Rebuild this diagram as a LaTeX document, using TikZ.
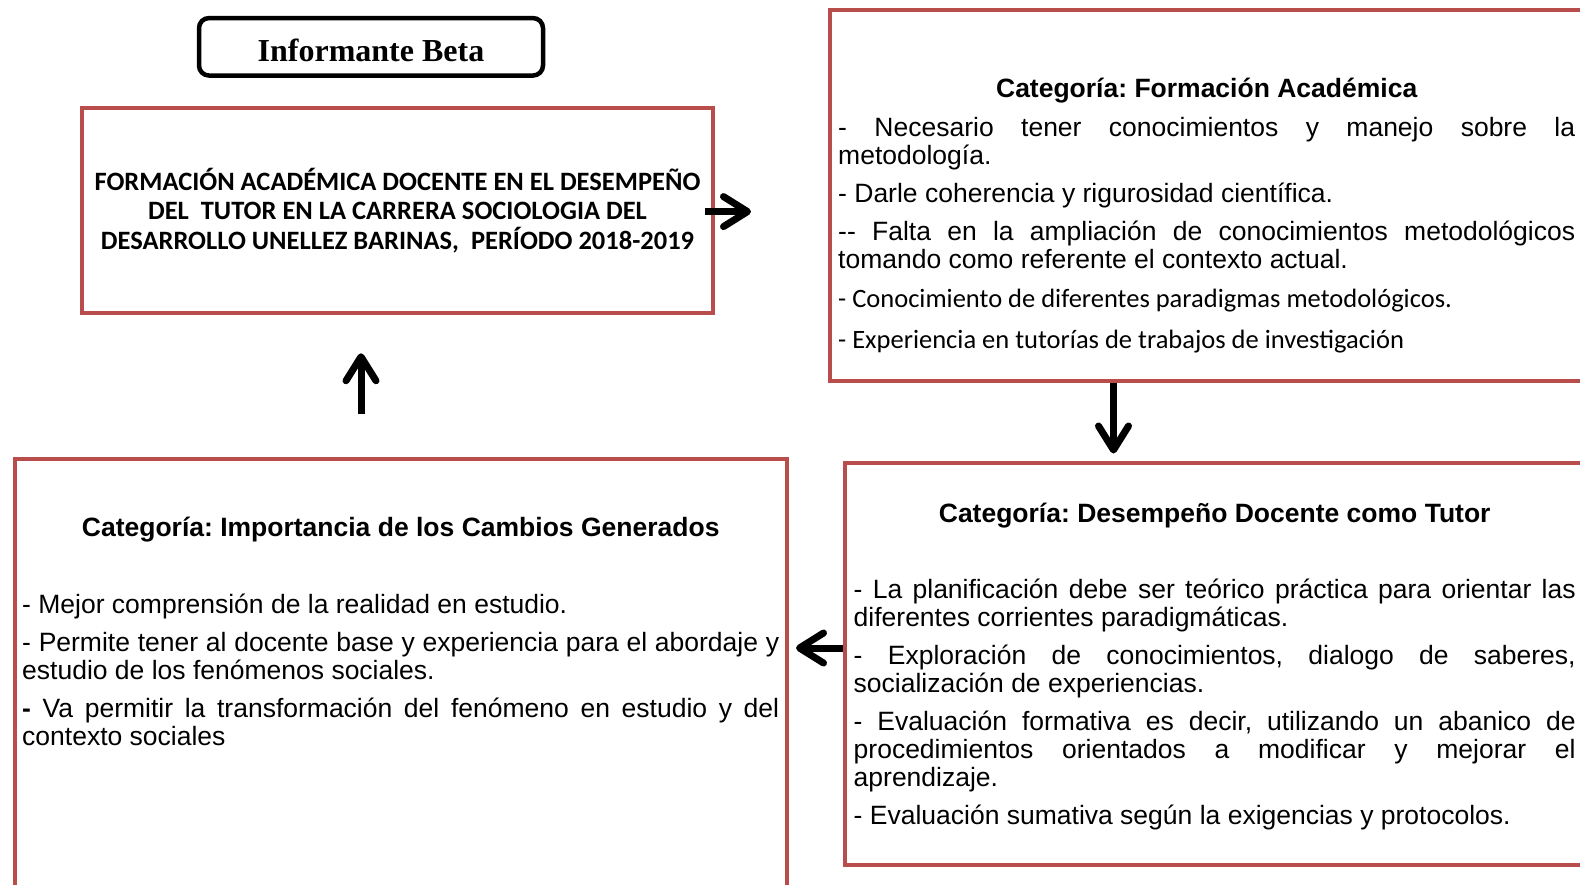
\documentclass[tikz,border=0pt]{standalone}
\usepackage{fontspec}
\setmainfont{Liberation Sans}
\newfontfamily\calibri{Carlito}
\newfontfamily\timesrm{Liberation Serif}
\usetikzlibrary{arrows.meta, positioning, calc}
\definecolor{boxred}{RGB}{184,77,75}
\hyphenpenalty=10000
\exhyphenpenalty=10000
\hbadness=10000
\frenchspacing
\tikzset{%
    betasty/.style={
        draw,
        rounded corners=10pt,
        line width=4.5pt,
        inner sep=0pt,
        minimum width=344pt,
        minimum height=57.5pt,
        text depth=0pt,
        font=\timesrm\bfseries\fontsize{32}{36}\selectfont,
    },
    boxsty/.style={
        draw=boxred,
        line width=4.5pt,
        inner sep=0pt,
    },
    txtsty/.style={
        inner sep=0pt,
        anchor=base west,
        align=justify,
        font=\fontsize{26.5}{28}\selectfont,
        execute at begin node={\setlength{\parskip}{10pt}},
    },
    arrsty/.style={
        -{Straight Barb[length=24pt,width=30pt,round]},
        line width=7pt,
    },
}

\begin{document}
\begin{tikzpicture}[x=1pt,y=-1pt]
\useasboundingbox (0,0) rectangle (1580,884);

% title and research topic
\node (beta) [betasty] at (371,46.8) {\raisebox{-7pt}{Informante Beta}};
\node (main) [boxsty,minimum width=631pt,minimum height=205pt,align=center,
      font=\calibri\bfseries\fontsize{26.5}{29.7}\selectfont] at (397.5,210.5)
      {FORMACIÓN ACADÉMICA DOCENTE EN EL DESEMPEÑO\\
       DEL\ \ TUTOR EN LA CARRERA SOCIOLOGIA DEL\\
       DESARROLLO UNELLEZ BARINAS,\ \ PERÍODO 2018-2019};

% category boxes
\node (fa) [boxsty,minimum width=770pt,minimum height=371pt] at (1215,195.5) {};
\node (dd) [boxsty,minimum width=755pt,minimum height=402pt] at (1222.5,664) {};
\node (ic) [boxsty,minimum width=772pt,minimum height=441pt] at (401,679.5) {};

% category texts
\node (fatxt) [txtsty,text width=737pt] at (838,97)
      {{\centering\bfseries Categoría: Formación Académica\par}
       \vspace{1pt}
       - Necesario tener conocimientos y manejo sobre la\linebreak metodología.\par
       - Darle coherencia y rigurosidad científica.\par
       -{}- Falta en la ampliación de conocimientos metodológicos\linebreak tomando como referente el contexto actual.\par
       \vspace{1pt}
       {\calibri - Conocimiento de diferentes paradigmas metodológicos.\par}
       \vspace{3.5pt}
       {\calibri - Experiencia en tutorías de trabajos de investigación\par}};

\node (ddtxt) [txtsty,text width=722pt] at (853.5,522)
      {{\centering\bfseries Categoría: Desempeño Docente como Tutor\par}
       \vspace{38.5pt}
       - La planificación debe ser teórico práctica para orientar las\linebreak diferentes corrientes paradigmáticas.\par
       - Exploración de conocimientos, dialogo de saberes,\linebreak socialización de experiencias.\par
       - Evaluación formativa es decir, utilizando un abanico de\linebreak procedimientos orientados a modificar y mejorar el\linebreak aprendizaje.\par
       - Evaluación sumativa según la exigencias y protocolos.\par};

\node (ictxt) [txtsty,text width=757pt] at (22,536)
      {{\centering\bfseries Categoría: Importancia de los Cambios Generados\par}
       \vspace{39.5pt}
       - Mejor comprensión de la realidad en estudio.\par
       - Permite tener al docente base y experiencia para el abordaje y\linebreak estudio de los fenómenos sociales.\par
       \textbf{-} Va permitir la transformación del fenómeno en estudio y del\linebreak contexto sociales\par};

% arrows
\coordinate (tipfa) at (751,211.6);
\coordinate (tipdd) at (1113.5,453.5);
\coordinate (tipic) at (796,648);
\coordinate (upx) at (361,353);
\draw [arrsty,shorten <=-10pt] (main.east |- tipfa) -- (tipfa);
\draw [arrsty] (fa.south -| tipdd) -- (tipdd);
\draw [arrsty] (dd.west |- tipic) -- (tipic);
\draw [arrsty,shorten <=43pt,shorten >=38pt] (ic.north -| upx) -- (main.south -| upx);

\end{tikzpicture}
\end{document}
